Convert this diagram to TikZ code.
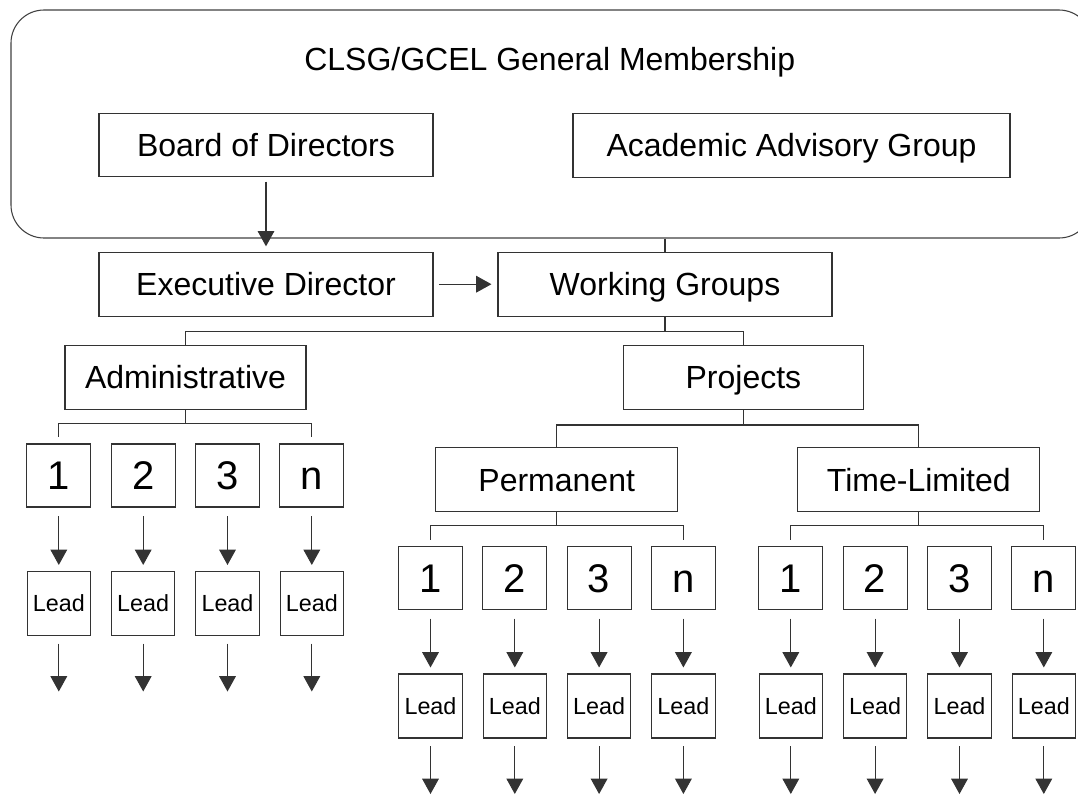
\documentclass[tikz,border=0pt]{standalone}
\usepackage{fontspec}
\setmainfont{Liberation Sans}
\usetikzlibrary{arrows.meta}
\tikzset{
	box/.style={draw=black!80, line width=0.8pt, inner sep=0pt, minimum width=250.5pt, minimum height=47.5pt, text height=17.2pt, text depth=0pt, font=\fontsize{24}{28}\selectfont},
	numbox/.style={box, minimum width=48pt, minimum height=47.25pt, text height=21.5pt, font=\fontsize{30}{34}\selectfont},
	leadbox/.style={box, minimum width=47.5pt, minimum height=48pt, text height=12.6pt, font=\fontsize{17.5}{20}\selectfont},
	link/.style={draw=black!80, line width=0.8pt},
	arr/.style={link, -{Triangle[length=11.5pt,width=12.5pt]}}
}
\def\leadcol[#1](#2,#3)#4{
	\node[numbox] (#1) at (#2, #3) {#4};
	\node[leadbox] (#1l) at (#2, #3+128) {Lead};
	\coordinate (#1o) at (#2, #3+216);
	\draw[arr, shorten <=6.5pt, shorten >=4.5pt] (#1) -- (#1l);
	\draw[arr, shorten <=5.7pt] (#1l) -- (#1o);
}

\begin{document}
\begin{tikzpicture}[x=0.75pt, y=-0.75pt]
		%%%%% START %%%%%
		\useasboundingbox (0, 0) rectangle (1078, 794);
		
		\node[draw=black!75, line width=0.8pt, rounded corners=24.75pt, minimum width=810.75pt, minimum height=171pt] (members) at (551.5, 124) {};
		\node[font=\fontsize{24}{28}\selectfont, anchor=base] (title) at (549.7, 70) {CLSG/GCEL General Membership};
		
		\node[box] (board) at (266, 144.7) {Board of Directors};
		\node[box, minimum width=327.75pt, minimum height=48pt] (academic) at (791.5, 145.5) {Academic Advisory Group};
		
		\node[box, minimum height=48pt] (exec) at (266, 284.2) {Executive Director};
		\node[box, minimum height=48pt] (working) at (665, 284.2) {Working Groups};
		
		\draw[arr, shorten <=3.5pt, shorten >=4pt] (board) -- (exec);
		\draw[arr, shorten <=4pt, shorten >=4.5pt] (exec) -- (working);
		\draw[link] (members.south -| working.north) -- (working.north);
		
		\node[box, minimum width=180.75pt] (admin) at (185.5, 377.5) {Administrative};
		\node[box, minimum width=180pt] (projects) at (743.4, 377.5) {Projects};
		\coordinate (wfork) at (665, 331.7);
		\draw[link] (working) -- (wfork);
		\draw[link] (wfork) -| (admin);
		\draw[link] (wfork) -| (projects);
		
		\node[box, minimum width=181.5pt] (perm) at (556.7, 479.6) {Permanent};
		\node[box, minimum width=181.5pt] (tlim) at (918.8, 479.6) {Time-Limited};
		\coordinate (pfork) at (743.4, 425);
		\draw[link] (projects) -- (pfork);
		\draw[link] (pfork) -| (perm);
		\draw[link] (pfork) -| (tlim);
		
		% administrative
		\leadcol[a1](58.8, 475.5){1}
		\leadcol[a2](143.2, 475.5){2}
		\leadcol[a3](227.5, 475.5){3}
		\leadcol[an](311.8, 475.5){n}
		\coordinate (afork) at (185.5, 423.3);
		\draw[link] (admin) -- (afork);
		\draw[link, shorten >=4.5pt] (afork) -| (a1);
		\draw[link, shorten >=4.5pt] (afork) -| (an);
		
		% permanent
		\leadcol[p1](430.5, 578){1}
		\leadcol[p2](514.8, 578){2}
		\leadcol[p3](599.1, 578){3}
		\leadcol[pn](683.4, 578){n}
		\coordinate (pmfork) at (556.7, 525.3);
		\draw[link] (perm) -- (pmfork);
		\draw[link, shorten >=4.5pt] (pmfork) -| (p1);
		\draw[link, shorten >=4.5pt] (pmfork) -| (pn);
		
		% time-limited
		\leadcol[t1](790.8, 578){1}
		\leadcol[t2](875.1, 578){2}
		\leadcol[t3](959.5, 578){3}
		\leadcol[tn](1043.8, 578){n}
		\coordinate (tfork) at (918.8, 525.3);
		\draw[link] (tlim) -- (tfork);
		\draw[link, shorten >=4.5pt] (tfork) -| (t1);
		\draw[link, shorten >=4.5pt] (tfork) -| (tn);
		
		%%%%% END %%%%%
	\end{tikzpicture}
\end{document}
